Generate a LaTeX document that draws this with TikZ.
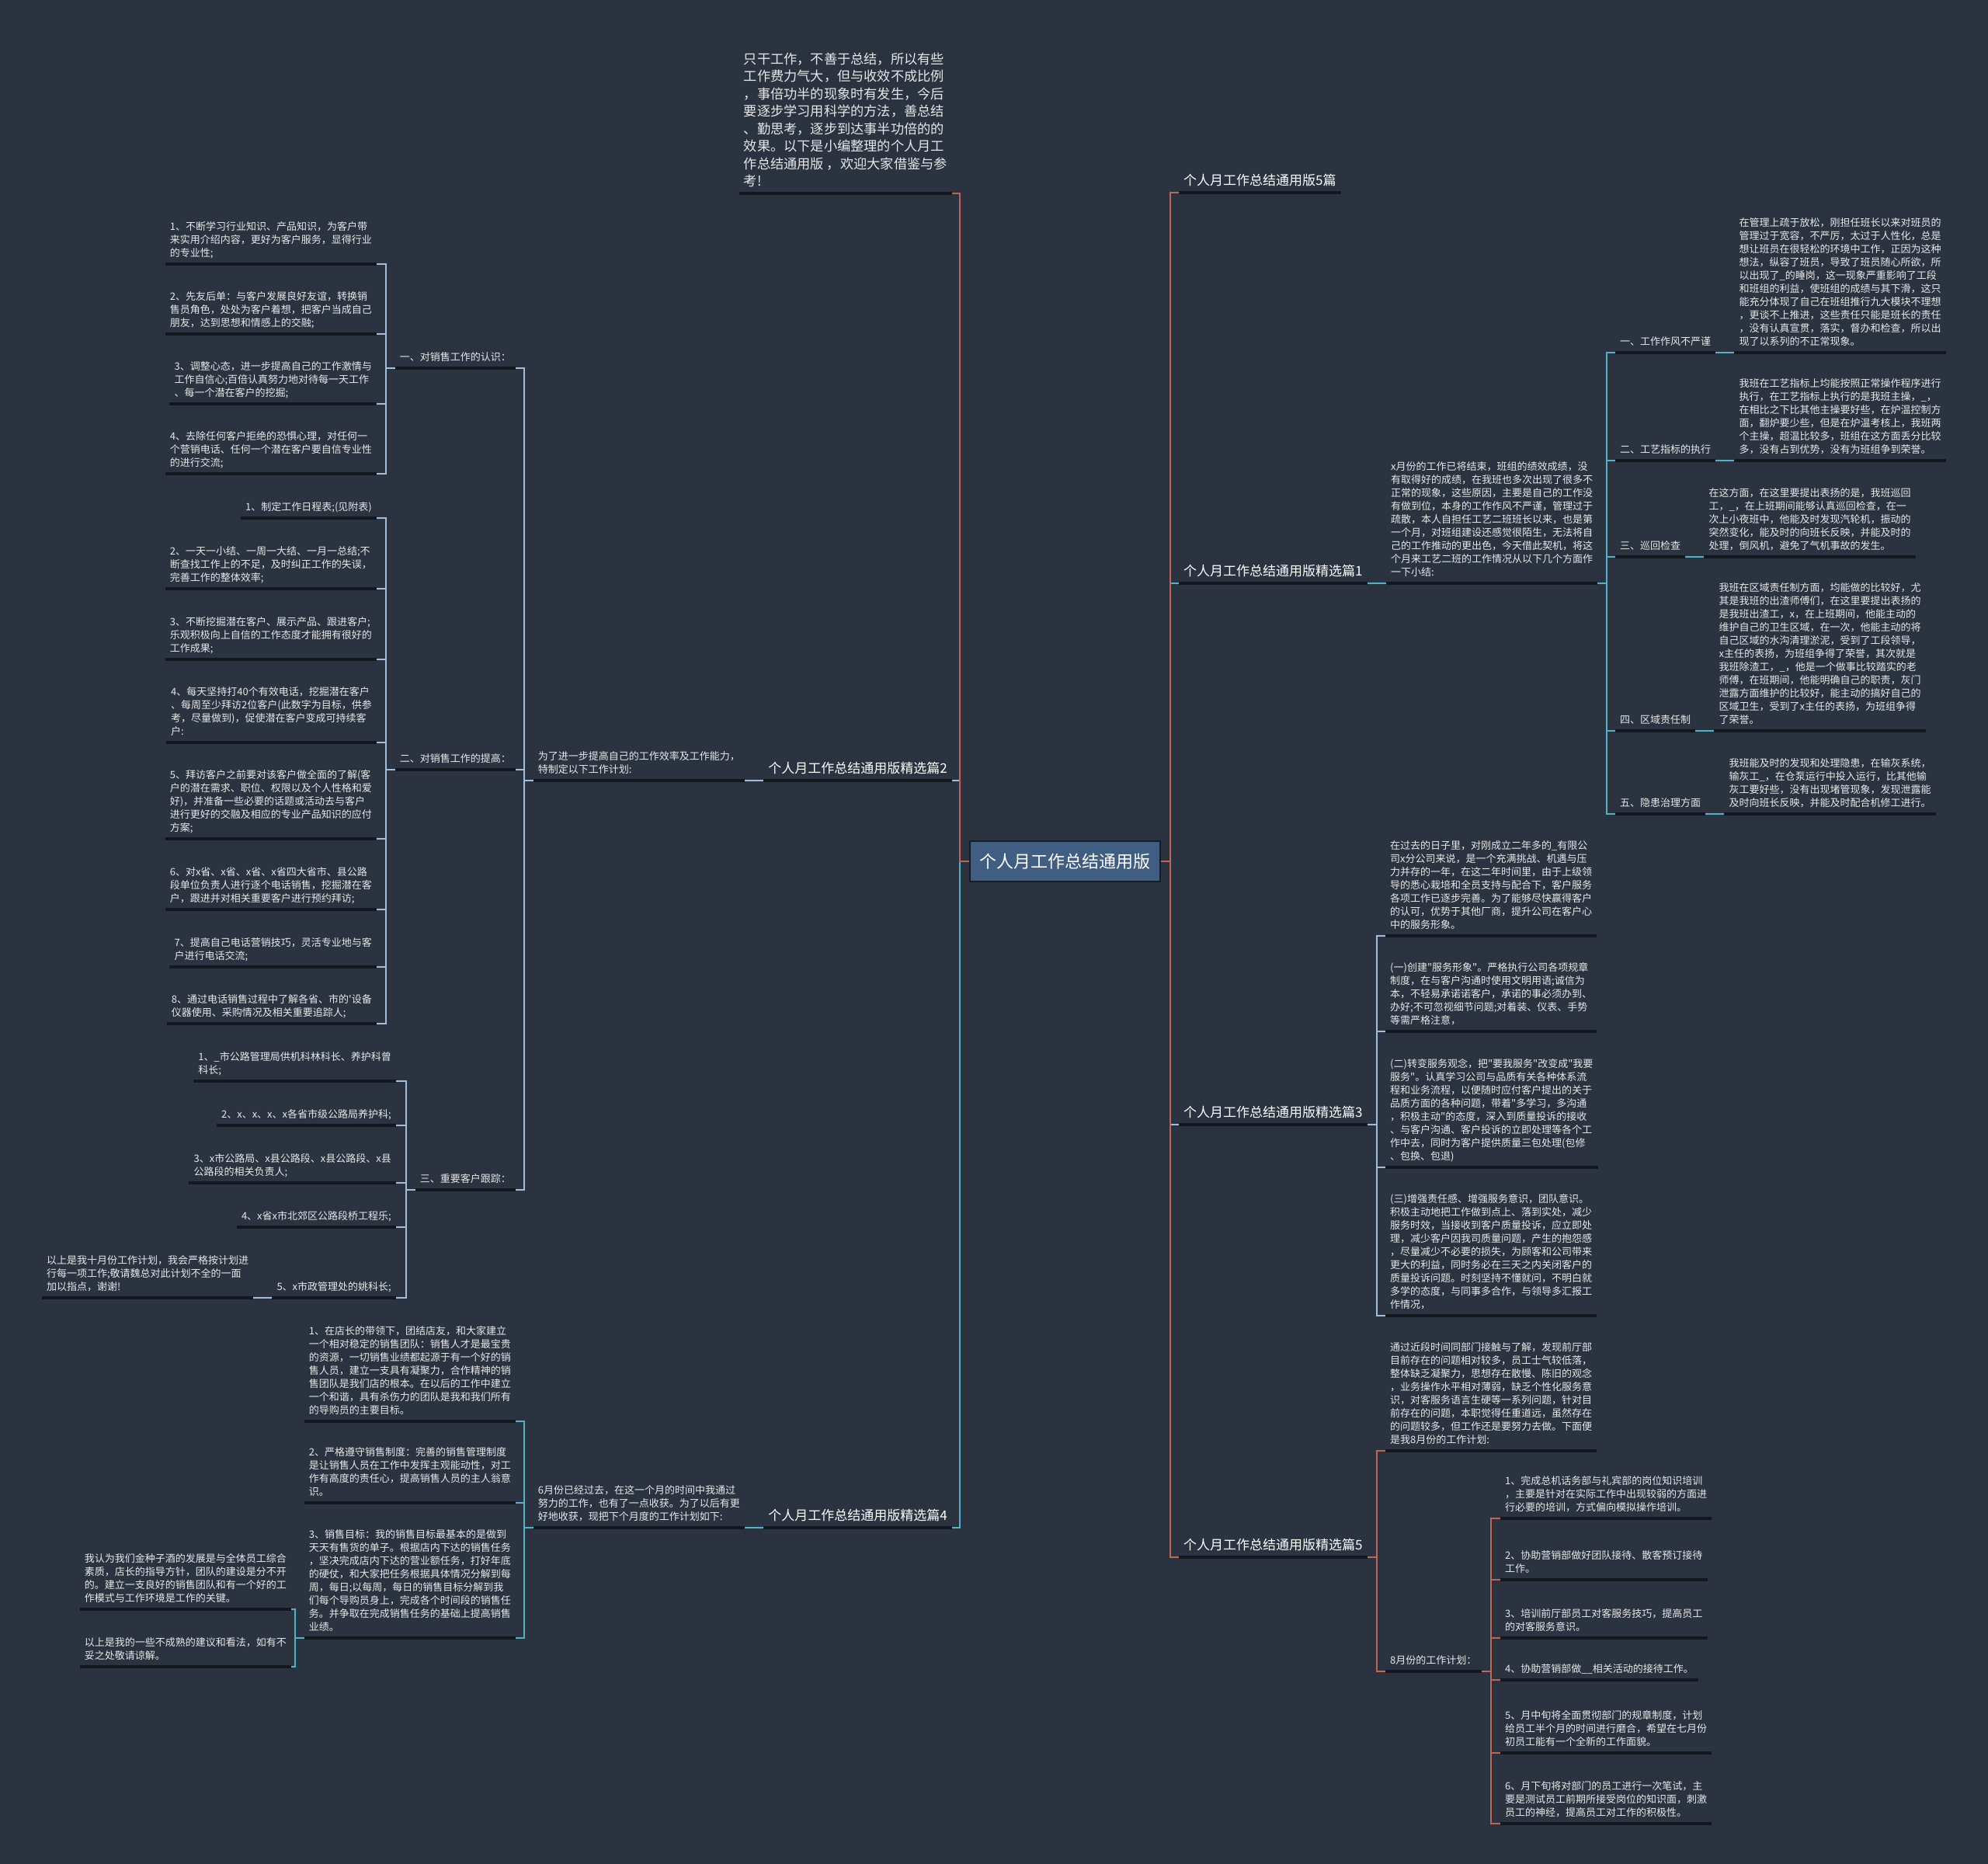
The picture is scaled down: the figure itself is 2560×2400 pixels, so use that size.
\documentclass[tikz,border=0pt]{standalone}
\usepackage{fontspec}
\newfontfamily\cjk{Noto Sans CJK SC}
\usetikzlibrary{positioning}

\definecolor{bgcol}{RGB}{43,51,64}
\definecolor{ulcol}{RGB}{20,23,29}
\definecolor{txtcol}{RGB}{232,232,232}
\definecolor{topicfill}{RGB}{64,93,130}
\definecolor{topicline}{RGB}{24,29,37}
\definecolor{linkred}{RGB}{192,100,88}
\definecolor{linkblue}{RGB}{160,190,220}
\definecolor{linkteal}{RGB}{80,178,196}

\begin{document}
\begin{tikzpicture}[x=1pt, y=-1pt,
    topic/.style={draw=topicline, line width=2pt, fill=topicfill, text=white, font=\cjk\fontsize{22pt}{26pt}\selectfont, minimum width=245pt, minimum height=52pt, inner sep=0pt},
    pian/.style={text=white, font=\cjk\fontsize{17pt}{22pt}\selectfont, inner xsep=6pt, inner ysep=4pt, text depth=5pt},
    lead/.style={pian, text=txtcol, align=left, font=\cjk\fontsize{17.2pt}{22.5pt}\selectfont},
    item/.style={text=txtcol, align=left, font=\cjk\fontsize{13pt}{17pt}\selectfont, inner xsep=6pt, inner ysep=4pt, text depth=5pt},
    uline/.style={draw=ulcol, line width=3.5pt},
    redlink/.style={draw=linkred, line width=2pt},
    bluelink/.style={draw=linkblue, line width=2pt},
    teallink/.style={draw=linkteal, line width=2pt}
]
\fill[bgcol] (0,0) rectangle (2560,2400);
\useasboundingbox (0,0) rectangle (2560,2400);

% root
\node[topic] (main) at (1371.5,1109) {个人月工作总结通用版};

% left side
\node[lead, anchor=south east] (intro) at (1226,249) {只干工作，不善于总结，所以有些\\工作费力气大，但与收效不成比例\\，事倍功半的现象时有发生，今后\\要逐步学习用科学的方法，善总结\\、勤思考，逐步到达事半功倍的的\\效果。以下是小编整理的个人月工\\作总结通用版 ，欢迎大家借鉴与参\\考!};
\node[pian, anchor=south east] (pian2) at (1226,1005) {个人月工作总结通用版精选篇2};
\node[pian, anchor=south east] (pian4) at (1226,1967) {个人月工作总结通用版精选篇4};

\node[item, left=24pt of pian2.south west, anchor=south east] (plan2) {为了进一步提高自己的工作效率及工作能力，\\特制定以下工作计划:};
\node[item, anchor=south east] (kn1) at (664,474) {一、对销售工作的认识：};
\node[item, anchor=south east] (kn2) at (664,991) {二、对销售工作的提高：};
\node[item, anchor=south east] (kn3) at (664,1532) {三、重要客户跟踪：};

\node[item, anchor=south east] (ka1) at (485,340) {1、不断学习行业知识、产品知识，为客户带\\来实用介绍内容，更好为客户服务，显得行业\\的专业性;};
\node[item, anchor=south east] (ka2) at (485,430) {2、先友后单：与客户发展良好友谊，转换销\\售员角色，处处为客户着想，把客户当成自己\\朋友，达到思想和情感上的交融;};
\node[item, anchor=south east] (ka3) at (485,520) {3、调整心态，进一步提高自己的工作激情与\\工作自信心;百倍认真努力地对待每一天工作\\、每一个潜在客户的挖掘;};
\node[item, anchor=south east] (ka4) at (485,610) {4、去除任何客户拒绝的恐惧心理，对任何一\\个营销电话、任何一个潜在客户要自信专业性\\的进行交流;};

\node[item, anchor=south east] (kb1) at (485,667) {1、制定工作日程表;(见附表)};
\node[item, anchor=south east] (kb2) at (485,758) {2、一天一小结、一周一大结、一月一总结;不\\断查找工作上的不足，及时纠正工作的失误，\\完善工作的整体效率;};
\node[item, anchor=south east] (kb3) at (485,849) {3、不断挖掘潜在客户、展示产品、跟进客户;\\乐观积极向上自信的工作态度才能拥有很好的\\工作成果;};
\node[item, anchor=south east] (kb4) at (485,956) {4、每天坚持打40个有效电话，挖掘潜在客户\\、每周至少拜访2位客户(此数字为目标，供参\\考，尽量做到)，促使潜在客户变成可持续客\\户:};
\node[item, anchor=south east] (kb5) at (485,1080) {5、拜访客户之前要对该客户做全面的了解(客\\户的潜在需求、职位、权限以及个人性格和爱\\好)，并准备一些必要的话题或活动去与客户\\进行更好的交融及相应的专业产品知识的应付\\方案;};
\node[item, anchor=south east] (kb6) at (485,1171) {6、对x省、x省、x省、x省四大省市、县公路\\段单位负责人进行逐个电话销售，挖掘潜在客\\户，跟进并对相关重要客户进行预约拜访;};
\node[item, anchor=south east] (kb7) at (485,1245) {7、提高自己电话营销技巧，灵活专业地与客\\户进行电话交流;};
\node[item, anchor=south east] (kb8) at (485,1318) {8、通过电话销售过程中了解各省、市的'设备\\仪器使用、采购情况及相关重要追踪人;};

\node[item, anchor=south east] (kc1) at (510,1392) {1、\_市公路管理局供机科林科长、养护科曾\\科长;};
\node[item, anchor=south east] (kc2) at (510,1449) {2、x、x、x、x各省市级公路局养护科;};
\node[item, anchor=south east] (kc3) at (510,1523) {3、x市公路局、x县公路段、x县公路段、x县\\公路段的相关负责人;};
\node[item, anchor=south east] (kc4) at (510,1580) {4、x省x市北郊区公路段桥工程乐;};
\node[item, anchor=south east] (kc5) at (510,1671) {5、x市政管理处的姚科长;};
\node[item, left=24pt of kc5.south west, anchor=south east] (kcend) {以上是我十月份工作计划，我会严格按计划进\\行每一项工作;敬请魏总对此计划不全的一面\\加以指点，谢谢!};

\node[item, left=24pt of pian4.south west, anchor=south east] (plan4) {6月份已经过去，在这一个月的时间中我通过\\努力的工作，也有了一点收获。为了以后有更\\好地收获，现把下个月度的工作计划如下:};
\node[item, anchor=south east] (sa1) at (664,1830) {1、在店长的带领下，团结店友，和大家建立\\一个相对稳定的销售团队：销售人才是最宝贵\\的资源，一切销售业绩都起源于有一个好的销\\售人员，建立一支具有凝聚力，合作精神的销\\售团队是我们店的根本。在以后的工作中建立\\一个和谐，具有杀伤力的团队是我和我们所有\\的导购员的主要目标。};
\node[item, anchor=south east] (sa2) at (664,1935) {2、严格遵守销售制度：完善的销售管理制度\\是让销售人员在工作中发挥主观能动性，对工\\作有高度的责任心，提高销售人员的主人翁意\\识。};
\node[item, anchor=south east] (sa3) at (664,2109) {3、销售目标：我的销售目标最基本的是做到\\天天有售货的单子。根据店内下达的销售任务\\，坚决完成店内下达的营业额任务，打好年底\\的硬仗，和大家把任务根据具体情况分解到每\\周，每日;以每周，每日的销售目标分解到我\\们每个导购员身上，完成各个时间段的销售任\\务。并争取在完成销售任务的基础上提高销售\\业绩。};
\node[item, anchor=south east] (sb1) at (375,2072) {我认为我们金种子酒的发展是与全体员工综合\\素质，店长的指导方针，团队的建设是分不开\\的。建立一支良好的销售团队和有一个好的工\\作模式与工作环境是工作的关键。};
\node[item, anchor=south east] (sb2) at (375,2146) {以上是我的一些不成熟的建议和看法，如有不\\妥之处敬请谅解。};

% right side
\node[pian, anchor=south west] (pian0) at (1518,248) {个人月工作总结通用版5篇};
\node[pian, anchor=south west] (pian1) at (1518,751) {个人月工作总结通用版精选篇1};
\node[pian, anchor=south west] (pian3) at (1518,1448) {个人月工作总结通用版精选篇3};
\node[pian, anchor=south west] (pian5) at (1518,2005) {个人月工作总结通用版精选篇5};

\node[item, right=24pt of pian1.south east, anchor=south west] (sum1) {x月份的工作已将结束，班组的绩效成绩，没\\有取得好的成绩，在我班也多次出现了很多不\\正常的现象，这些原因，主要是自己的工作没\\有做到位，本身的工作作风不严谨，管理过于\\疏散，本人自担任工艺二班班长以来，也是第\\一个月，对班组建设还感觉很陌生，无法将自\\己的工作推动的更出色，今天借此契机，将这\\个月来工艺二班的工作情况从以下几个方面作\\一下小结:};
\node[item, anchor=south west] (ha1) at (2080,454) {一、工作作风不严谨};
\node[item, anchor=south west] (ha2) at (2080,593) {二、工艺指标的执行};
\node[item, anchor=south west] (ha3) at (2080,717) {三、巡回检查};
\node[item, anchor=south west] (ha4) at (2080,941) {四、区域责任制};
\node[item, anchor=south west] (ha5) at (2080,1048) {五、隐患治理方面};
\node[item, right=24pt of ha1.south east, anchor=south west] (hb1) {在管理上疏于放松，刚担任班长以来对班员的\\管理过于宽容，不严厉，太过于人性化，总是\\想让班员在很轻松的环境中工作，正因为这种\\想法，纵容了班员，导致了班员随心所欲，所\\以出现了\_的睡岗，这一现象严重影响了工段\\和班组的利益，使班组的成绩与其下滑，这只\\能充分体现了自己在班组推行九大模块不理想\\，更谈不上推进，这些责任只能是班长的责任\\，没有认真宣贯，落实，督办和检查，所以出\\现了以系列的不正常现象。};
\node[item, right=24pt of ha2.south east, anchor=south west] (hb2) {我班在工艺指标上均能按照正常操作程序进行\\执行，在工艺指标上执行的是我班主操，\_，\\在相比之下比其他主操要好些，在炉温控制方\\面，翻炉要少些，但是在炉温考核上，我班两\\个主操，超温比较多，班组在这方面丢分比较\\多，没有占到优势，没有为班组争到荣誉。};
\node[item, right=24pt of ha3.south east, anchor=south west] (hb3) {在这方面，在这里要提出表扬的是，我班巡回\\工，\_，在上班期间能够认真巡回检查，在一\\次上小夜班中，他能及时发现汽轮机，振动的\\突然变化，能及时的向班长反映，并能及时的\\处理，倒风机，避免了气机事故的发生。};
\node[item, right=24pt of ha4.south east, anchor=south west] (hb4) {我班在区域责任制方面，均能做的比较好，尤\\其是我班的出渣师傅们，在这里要提出表扬的\\是我班出渣工，x，在上班期间，他能主动的\\维护自己的卫生区域，在一次，他能主动的将\\自己区域的水沟清理淤泥，受到了工段领导，\\x主任的表扬，为班组争得了荣誉，其次就是\\我班除渣工，\_，他是一个做事比较踏实的老\\师傅，在班期间，他能明确自己的职责，灰门\\泄露方面维护的比较好，能主动的搞好自己的\\区域卫生，受到了x主任的表扬，为班组争得\\了荣誉。};
\node[item, right=24pt of ha5.south east, anchor=south west] (hb5) {我班能及时的发现和处理隐患，在输灰系统，\\输灰工\_，在仓泵运行中投入运行，比其他输\\灰工要好些，没有出现堵管现象，发现泄露能\\及时向班长反映，并能及时配合机修工进行。};

\node[item, anchor=south west] (fw0) at (1784,1205) {在过去的日子里，对刚成立二年多的\_有限公\\司x分公司来说，是一个充满挑战、机遇与压\\力并存的一年，在这二年时间里，由于上级领\\导的悉心栽培和全员支持与配合下，客户服务\\各项工作已逐步完善。为了能够尽快赢得客户\\的认可，优势于其他厂商，提升公司在客户心\\中的服务形象。};
\node[item, anchor=south west] (fw1) at (1784,1328) {(一)创建"服务形象"。严格执行公司各项规章\\制度，在与客户沟通时使用文明用语;诚信为\\本，不轻易承诺诺客户，承诺的事必须办到、\\办好;不可忽视细节问题;对着装、仪表、手势\\等需严格注意，};
\node[item, anchor=south west] (fw2) at (1784,1503) {(二)转变服务观念，把"要我服务"改变成"我要\\服务"。认真学习公司与品质有关各种体系流\\程和业务流程，以便随时应付客户提出的关于\\品质方面的各种问题，带着"多学习，多沟通\\，积极主动"的态度，深入到质量投诉的接收\\、与客户沟通、客户投诉的立即处理等各个工\\作中去，同时为客户提供质量三包处理(包修\\、包换、包退)};
\node[item, anchor=south west] (fw3) at (1784,1694) {(三)增强责任感、增强服务意识，团队意识。\\积极主动地把工作做到点上、落到实处，减少\\服务时效，当接收到客户质量投诉，应立即处\\理，减少客户因我司质量问题，产生的抱怨感\\，尽量减少不必要的损失，为顾客和公司带来\\更大的利益，同时务必在三天之内关闭客户的\\质量投诉问题。时刻坚持不懂就问，不明白就\\多学的态度，与同事多合作，与领导多汇报工\\作情况，};

\node[item, anchor=south west] (qt) at (1784,1868) {通过近段时间同部门接触与了解，发现前厅部\\目前存在的问题相对较多，员工士气较低落，\\整体缺乏凝聚力，思想存在散慢、陈旧的观念\\，业务操作水平相对薄弱，缺乏个性化服务意\\识，对客服务语言生硬等一系列问题，针对目\\前存在的问题，本职觉得任重道远，虽然存在\\的问题较多，但工作还是要努力去做。下面便\\是我8月份的工作计划:};
\node[item, anchor=south west] (qplan) at (1784,2152) {8月份的工作计划：};
\node[item, anchor=south west] (qa1) at (1932,1955) {1、完成总机话务部与礼宾部的岗位知识培训\\，主要是针对在实际工作中出现较弱的方面进\\行必要的培训，方式偏向模拟操作培训。};
\node[item, anchor=south west] (qa2) at (1932,2034) {2、协助营销部做好团队接待、散客预订接待\\工作。};
\node[item, anchor=south west] (qa3) at (1932,2109) {3、培训前厅部员工对客服务技巧，提高员工\\的对客服务意识。};
\node[item, anchor=south west] (qa4) at (1932,2163) {4、协助营销部做\_\_相关活动的接待工作。};
\node[item, anchor=south west] (qa5) at (1932,2257) {5、月中旬将全面贯彻部门的规章制度，计划\\给员工半个月的时间进行磨合，希望在七月份\\初员工能有一个全新的工作面貌。};
\node[item, anchor=south west] (qa6) at (1932,2348) {6、月下旬将对部门的员工进行一次笔试，主\\要是测试员工前期所接受岗位的知识面，刺激\\员工的神经，提高员工对工作的积极性。};

% underlines
\foreach \n in {intro,pian2,pian4,plan2,kn1,kn2,kn3,ka1,ka2,ka3,ka4,kb1,kb2,kb3,kb4,kb5,kb6,kb7,kb8,kc1,kc2,kc3,kc4,kc5,kcend,plan4,sa1,sa2,sa3,sb1,sb2,pian0,pian1,pian3,pian5,sum1,ha1,ha2,ha3,ha4,ha5,hb1,hb2,hb3,hb4,hb5,fw0,fw1,fw2,fw3,qt,qplan,qa1,qa2,qa3,qa4,qa5,qa6}
    \draw[uline] (\n.south west) -- (\n.south east);

% left connectors
\draw[teallink] (main.west) -- ++(-12,0) |- (pian4.south east);
\draw[bluelink] (main.west) -- ++(-12,0) |- (pian2.south east);
\draw[redlink] (main.west) -- ++(-12,0) |- (intro.south east);

\draw[bluelink] (pian2.south west) -- (plan2.south east);
\foreach \c in {kn1,kn2,kn3}
    \draw[bluelink] (plan2.south west) -- ++(-12,0) |- (\c.south east);
\foreach \c in {ka1,ka2,ka3,ka4}
    \draw[bluelink] (kn1.south west) -- ++(-12,0) |- (\c.south east);
\foreach \c in {kb1,kb2,kb3,kb4,kb5,kb6,kb7,kb8}
    \draw[bluelink] (kn2.south west) -- ++(-12,0) |- (\c.south east);
\foreach \c in {kc1,kc2,kc3,kc4,kc5}
    \draw[bluelink] (kn3.south west) -- ++(-12,0) |- (\c.south east);
\draw[bluelink] (kc5.south west) -- (kcend.south east);

\draw[teallink] (pian4.south west) -- (plan4.south east);
\foreach \c in {sa1,sa2,sa3}
    \draw[teallink] (plan4.south west) -- ++(-12,0) |- (\c.south east);
\foreach \c in {sb1,sb2}
    \draw[teallink] (sa3.south west) -- ++(-12,0) |- (\c.south east);

% right connectors
\draw[teallink] (main.east) -- ++(12,0) |- (pian1.south west);
\draw[bluelink] (main.east) -- ++(12,0) |- (pian3.south west);
\draw[redlink] (main.east) -- ++(12,0) |- (pian5.south west);
\draw[redlink] (main.east) -- ++(12,0) |- (pian0.south west);

\draw[teallink] (pian1.south east) -- (sum1.south west);
\foreach \c in {ha1,ha2,ha3,ha4,ha5}
    \draw[teallink] (sum1.south east) -- ++(12,0) |- (\c.south west);
\foreach \i in {1,...,5}
    \draw[teallink] (ha\i.south east) -- (hb\i.south west);

\foreach \c in {fw0,fw1,fw2,fw3}
    \draw[bluelink] (pian3.south east) -- ++(12,0) |- (\c.south west);

\foreach \c in {qt,qplan}
    \draw[redlink] (pian5.south east) -- ++(12,0) |- (\c.south west);
\foreach \c in {qa1,qa2,qa3,qa4,qa5,qa6}
    \draw[redlink] (qplan.south east) -- ++(12,0) |- (\c.south west);
\end{tikzpicture}
\end{document}
